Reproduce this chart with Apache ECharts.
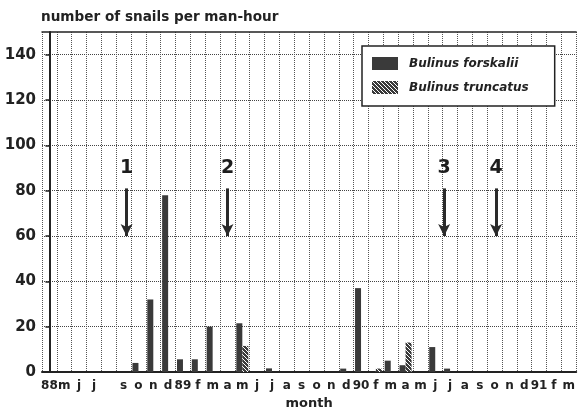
<!DOCTYPE html>
<html>
<head>
<meta charset="utf-8">
<script src="https://cdn.jsdelivr.net/npm/echarts@6/dist/echarts.min.js"></script>
<style>
	html, body { margin: 0; padding: 0; background: #fff; }
	#chart { width: 578px; height: 418px; }
</style>
</head>
<body>
<div id="chart"></div>
<script>
	// months Apr 1988 .. Mar 1991, labelled as on the original axis
	var months = ['88', 'm', 'j', 'j', '', 's', 'o', 'n', 'd',
		'89', 'f', 'm', 'a', 'm', 'j', 'j', 'a', 's', 'o', 'n', 'd',
		'90', 'f', 'm', 'a', 'm', 'j', 'j', 'a', 's', 'o', 'n', 'd',
		'91', 'f', 'm'];
	var forskalii = [0, 0, 0, 0, 0, 0, 4, 32, 78,
		5.6, 5.6, 20, 0, 21.5, 0, 1.6, 0, 0, 0, 0, 1.5,
		37, 0, 5, 3, 0, 11, 1.5, 0, 0, 0, 0, 0,
		0, 0, 0];
	var truncatus = [0, 0, 0, 0, 0, 0, 0, 0, 0,
		0, 0, 0, 0, 11.5, 0, 0, 0, 0, 0, 0, 0,
		0, 1.5, 0, 13, 0, 0, 0, 0, 0, 0, 0, 0,
		0, 0, 0];
	var yTicks = [0, 20, 40, 60, 80, 100, 120, 140];

	// numbered arrows (position in month index, top / tip in snails)
	var arrowNames = ['1', '2', '3', '4'];
	var arrowMonth = [5.2, 12, 26.6, 30.1];
	var arrowTop = 81;
	var arrowTip = 60;
	var arrowLabelY = 90;

	var font = 'DejaVu Sans';

	function hatch() {
		var c = document.createElement('canvas');
		c.width = 4;
		c.height = 4;
		var g = c.getContext('2d');
		g.fillStyle = '#3a3a3a';
		g.fillRect(0, 0, 4, 4);
		g.strokeStyle = '#ffffff';
		g.lineWidth = 1;
		g.beginPath();
		g.moveTo(0, 0); g.lineTo(4, 4);
		g.moveTo(-1, 3); g.lineTo(1, 5);
		g.moveTo(3, -1); g.lineTo(5, 1);
		g.stroke();
		return c;
	}

	var arrowLines = arrowMonth.map(function (m) {
		return [{ coord: [m, arrowTop] }, { coord: [m, arrowTip] }];
	});
	var arrowLabels = arrowMonth.map(function (m, i) {
		return [m, arrowLabelY, arrowNames[i]];
	});

	var chart = echarts.init(document.getElementById('chart'), null, { renderer: 'canvas' });
	var option = {
		animation: false,
		title: {
			text: 'number of snails per man-hour',
			left: 41,
			top: 10,
			padding: 0,
			textStyle: { fontFamily: font, fontWeight: 'bold', fontSize: 13.6, color: '#222' }
		},
		legend: {
			orient: 'vertical',
			left: 362,
			top: 46,
			padding: [11, 26, 12, 10],
			itemWidth: 26,
			itemHeight: 13,
			itemGap: 11,
			backgroundColor: '#fff',
			borderColor: '#222',
			borderWidth: 1.5,
			borderRadius: 0,
			data: [{ name: 'Bulinus forskalii', icon: 'rect' }, { name: 'Bulinus truncatus', icon: 'rect' }],
			textStyle: {
				fontFamily: font, fontWeight: 'bold', fontStyle: 'italic', fontSize: 12,
				color: '#222', padding: [0, 0, 0, 6]
			}
		},
		grid: {
			left: 42,
			top: 32,
			width: 537,
			height: 340
		},
		xAxis: [{
			type: 'category',
			data: months,
			name: 'month',
			nameLocation: 'middle',
			nameGap: 23,
			nameTextStyle: { fontFamily: font, fontWeight: 'bold', fontSize: 13, color: '#222' },
			axisLine: { lineStyle: { color: '#222', width: 2 } },
			axisTick: { inside: true, length: 5, alignWithLabel: true, lineStyle: { color: '#222', width: 1.5 } },
			axisLabel: { interval: 0, margin: 8, fontFamily: font, fontWeight: 'bold', fontSize: 12, color: '#222' },
			splitLine: { show: true, interval: 0, lineStyle: { type: 'dotted', color: '#555', width: 1 } }
		}, {
			type: 'value',
			min: -0.5,
			max: 35.5,
			show: false
		}, {
			// top frame line
			type: 'category',
			data: months,
			position: 'top',
			axisLine: { lineStyle: { color: '#222', width: 1.5 } },
			axisTick: { show: false },
			axisLabel: { show: false },
			splitLine: { show: false }
		}],
		yAxis: [{
			type: 'value',
			min: 0,
			max: 150,
			interval: 20,
			axisLine: { show: true, lineStyle: { color: '#222', width: 2 } },
			axisTick: { show: true, length: 4, customValues: yTicks, lineStyle: { color: '#222', width: 1.5 } },
			axisLabel: { margin: 6, customValues: yTicks, fontFamily: font, fontWeight: 'bold', fontSize: 15, color: '#222' },
			splitLine: { lineStyle: { type: 'dotted', color: '#444', width: 1 } }
		}, {
			type: 'value',
			min: 0,
			max: 150,
			show: false
		}],
		series: [{
			name: 'Bulinus forskalii',
			type: 'bar',
			data: forskalii,
			barWidth: 6,
			barGap: '0%',
			itemStyle: { color: '#3a3a3a' }
		}, {
			name: 'Bulinus truncatus',
			type: 'bar',
			data: truncatus,
			barWidth: 6,
			barGap: '0%',
			itemStyle: { color: { image: hatch(), repeat: 'repeat' } }
		}, {
			name: 'arrows',
			type: 'scatter',
			xAxisIndex: 1,
			yAxisIndex: 1,
			data: arrowLabels,
			symbolSize: 0,
			silent: true,
			itemStyle: { opacity: 1 },
			label: {
				show: true,
				position: 'inside',
				formatter: function (p) { return p.value[2]; },
				fontFamily: font, fontWeight: 'bold', fontSize: 19, color: '#1e1e1e', opacity: 1
			},
			markLine: {
				silent: true,
				symbol: ['none', 'arrow'],
				symbolSize: [9, 12],
				label: { show: false },
				lineStyle: { color: '#2a2a2a', width: 3, type: 'solid', opacity: 1 },
				data: arrowLines
			}
		}]
	};
	chart.setOption(option);
</script>
</body>
</html>
